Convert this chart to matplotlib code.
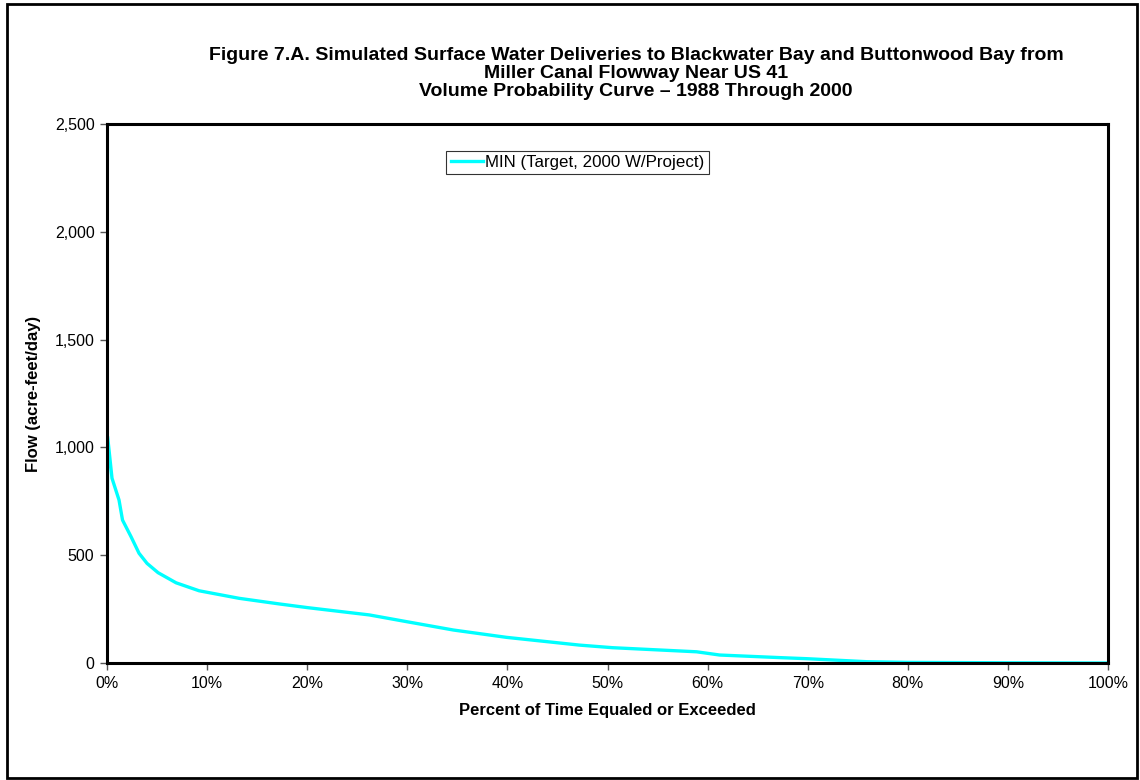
import matplotlib
matplotlib.use("Agg")
import matplotlib.pyplot as plt
from matplotlib.patches import Rectangle
from matplotlib.ticker import FuncFormatter

plt.rcParams['font.family'] = ['Liberation Sans', 'DejaVu Sans']

# exceedance probability (percent of time) and flow (acre-feet/day)
pct_time = [0.0, 0.06, 0.5, 1.2, 1.55, 2.4, 3.2, 4.0, 5.1, 6.9, 9.2, 13.2,
            17.2, 20.0, 26.2, 29.9, 34.6, 39.9, 47.2, 50.5, 58.9, 61.2,
            67.2, 69.9, 75.9, 80.0, 90.0, 100.0]
flow = [0, 1050, 857, 756, 663, 586, 509, 462, 419, 372, 335, 300,
        274, 257, 223, 192, 153, 119, 83, 71, 52, 37,
        25, 20, 6, 3, 1, 0]
series_label = "MIN (Target, 2000 W/Project)"

title_lines = ["Figure 7.A. Simulated Surface Water Deliveries to Blackwater Bay and Buttonwood Bay from",
               "Miller Canal Flowway Near US 41",
               "Volume Probability Curve \u2013 1988 Through 2000"]

W, H = 1140, 780
fig = plt.figure(figsize=(W / 100, H / 100), dpi=100)
ax = fig.add_axes([107 / W, 1 - 663 / H, (1108 - 107) / W, (663 - 124) / H])

ax.plot(pct_time, flow, color="#00FFFF", lw=2.4, label=series_label, solid_joinstyle="round")

ax.set_xlim(0, 100)
ax.set_ylim(0, 2500)
ax.set_xticks(range(0, 101, 10))
ax.set_yticks(range(0, 2501, 500))
ax.xaxis.set_major_formatter(FuncFormatter(lambda v, p: "%d%%" % v))
ax.yaxis.set_major_formatter(FuncFormatter(lambda v, p: "{:,.0f}".format(v)))
ax.tick_params(axis="both", direction="out", length=5, width=1, color="#555555",
               labelsize=11.5, pad=4)

for s in ax.spines.values():
    s.set_linewidth(2.2)
    s.set_color("black")

ax.set_xlabel("Percent of Time Equaled or Exceeded", fontsize=12, fontweight="bold", labelpad=9)
ax.set_ylabel("Flow (acre-feet/day)", fontsize=12, fontweight="bold", labelpad=10)

leg = ax.legend(loc="upper left", bbox_to_anchor=(0.339, 0.95), fontsize=12.2,
                frameon=True, fancybox=False, handlelength=1.9, handletextpad=0.15,
                borderpad=0.25, borderaxespad=0)
leg.get_frame().set_edgecolor("black")
leg.get_frame().set_linewidth(0.8)

for i, line in enumerate(title_lines):
    fig.text(636 / W, 1 - (55 + 18.5 * i) / H, line, ha="center", va="center",
             fontsize=14, fontweight="bold")

fig.patches.append(Rectangle((7 / W, 2 / H), (1137 - 7) / W, (776 - 2) / H,
                             transform=fig.transFigure, fill=False,
                             edgecolor="black", linewidth=2))

fig.savefig("out.png", dpi=100)
